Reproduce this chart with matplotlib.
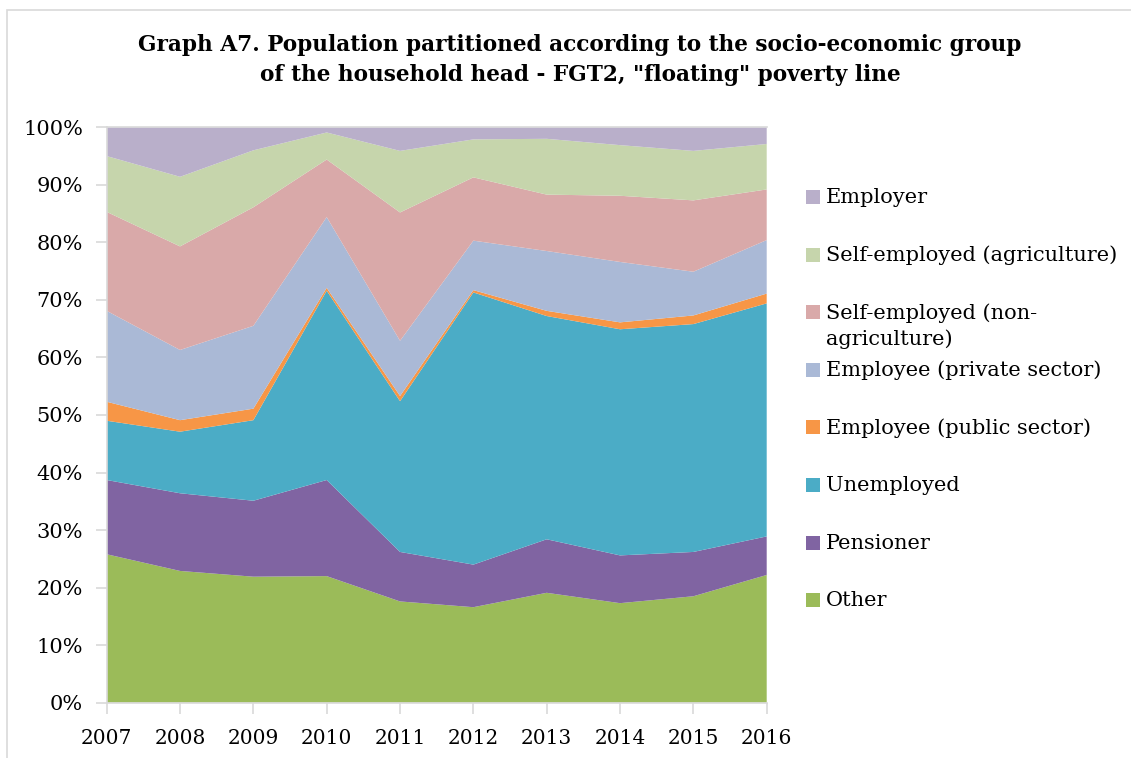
import numpy as np
import matplotlib
matplotlib.use('Agg')
import matplotlib.pyplot as plt
from matplotlib.patches import Rectangle

plt.rcParams['font.family'] = ['DejaVu Serif']

years = [2007, 2008, 2009, 2010, 2011, 2012, 2013, 2014, 2015, 2016]

# shares in %, stacked bottom -> top
other = [25.8, 22.9, 21.9, 22.0, 17.6, 16.6, 19.1, 17.3, 18.5, 22.2]
pensioner = [12.9, 13.5, 13.2, 16.7, 8.6, 7.4, 9.3, 8.3, 7.7, 6.7]
unemployed = [10.3, 10.7, 14.0, 32.9, 26.2, 47.3, 38.8, 39.3, 39.6, 40.5]
emp_public = [3.3, 2.0, 2.0, 0.5, 0.9, 0.4, 0.9, 1.2, 1.5, 1.7]
emp_private = [15.8, 12.2, 14.4, 12.3, 9.6, 8.6, 10.4, 10.5, 7.6, 9.3]
self_nonagri = [17.2, 18.0, 20.6, 10.0, 22.3, 11.0, 9.8, 11.5, 12.4, 8.8]
self_agri = [9.7, 12.1, 9.9, 4.7, 10.7, 6.6, 9.7, 8.8, 8.6, 7.9]
employer = [5.0, 8.6, 4.0, 0.9, 4.1, 2.1, 2.0, 3.1, 4.1, 2.9]

series = [other, pensioner, unemployed, emp_public, emp_private,
          self_nonagri, self_agri, employer]
labels = ['Other', 'Pensioner', 'Unemployed', 'Employee (public sector)',
          'Employee (private sector)', 'Self-employed (non-\nagriculture)',
          'Self-employed (agriculture)', 'Employer']
colors = ['#9BBB59', '#8064A2', '#4BACC6', '#F79646',
          '#AAB9D6', '#D9A9A9', '#C6D5AC', '#B9AFCA']

fig = plt.figure(figsize=(11.31, 7.58), dpi=100)

# outer chart border
fig.patches.append(Rectangle((7 / 1131, -0.1), 1.2, 1 - 10 / 758 + 0.1,
                             transform=fig.transFigure, fill=False,
                             edgecolor='#d9d9d9', linewidth=1.2))

ax = fig.add_axes([106.7 / 1131, 55.3 / 758, 660 / 1131, 575.4 / 758])

# normalise so the stack reaches 100%
data = np.array(series, dtype=float)
data = data / data.sum(axis=0) * 100

ax.stackplot(years, data, colors=colors, linewidth=0)

ax.set_xlim(2007, 2016)
ax.set_ylim(0, 100)
ax.set_xticks(years)
ax.set_xticklabels([str(y) for y in years], fontsize=14.5)
ax.set_yticks(np.arange(0, 101, 10))
ax.set_yticklabels([f'{v}%' for v in range(0, 101, 10)], fontsize=15)

ax.spines['right'].set_visible(False)
for s in ['left', 'bottom', 'top']:
    ax.spines[s].set_color('#d9d9d9')
    ax.spines[s].set_linewidth(1.2)
ax.tick_params(axis='both', color='#d9d9d9', length=8, width=1.2)
ax.tick_params(axis='x', pad=11)
ax.tick_params(axis='y', pad=9)

fig.text(580 / 1131, 1 - 45 / 758,
         'Graph A7. Population partitioned according to the socio-economic group',
         ha='center', va='center', fontsize=15.6, fontweight='bold')
fig.text(580 / 1131, 1 - 75 / 758,
         'of the household head - FGT2, "floating" poverty line',
         ha='center', va='center', fontsize=15.6, fontweight='bold')

# legend drawn by hand (uniform slots, top entry first)
leg_y0 = 197
leg_step = 57.6
for i, (lab, col) in enumerate(zip(labels[::-1], colors[::-1])):
    y = leg_y0 + i * leg_step
    fig.patches.append(Rectangle((806 / 1131, 1 - (y + 7) / 758), 14 / 1131, 14 / 758,
                                 transform=fig.transFigure, facecolor=col,
                                 edgecolor='none'))
    fig.text(826 / 1131, 1 - (y - 9) / 758, lab, ha='left', va='top',
             fontsize=15, linespacing=1.4)

fig.savefig('out.png', dpi=100)
